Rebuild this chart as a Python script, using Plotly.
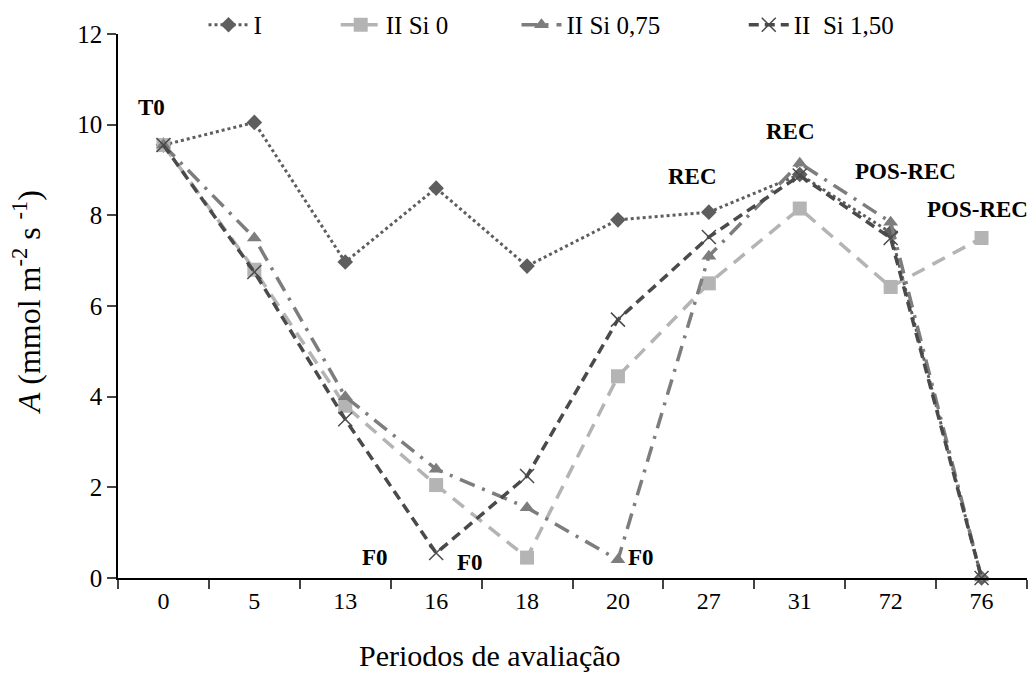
import plotly.graph_objects as go

periods = ["0", "5", "13", "16", "18", "20", "27", "31", "72", "76"]
s_I = [9.55, 10.05, 6.97, 8.6, 6.88, 7.9, 8.07, 8.9, 7.62, 0.0]
s_si0 = [9.55, 6.8, 3.8, 2.05, 0.45, 4.45, 6.5, 8.15, 6.42, 7.5]
s_si075 = [9.55, 7.5, 4.0, 2.4, 1.55, 0.4, 7.1, 9.15, 7.85, 0.0]
s_si150 = [9.55, 6.75, 3.5, 0.55, 2.25, 5.7, 7.52, 8.88, 7.5, 0.0]

ann_text = ["T0", "F0", "F0", "F0", "REC", "REC", "POS-REC", "POS-REC"]
ann_x = ["0", "16", "18", "20", "27", "31", "72", "76"]
ann_y = [10.37, 0.46, 0.35, 0.46, 8.85, 9.84, 8.96, 8.12]
ann_dx = [-12, -61, -57, 23, -16, -9, 15, -4]

font = "Times New Roman, Liberation Serif, serif"
fig = go.Figure()
fig.add_trace(go.Scatter(x=periods, y=s_I, name="I", mode="lines+markers", legend="legend",
                         line=dict(color="#5e5e5e", width=3, dash="dot"),
                         marker=dict(symbol="diamond", size=12, color="#5e5e5e"), cliponaxis=False))
fig.add_trace(go.Scatter(x=periods, y=s_si0, name="II Si 0", mode="lines+markers", legend="legend2",
                         line=dict(color="#b4b4b4", width=3.5, dash="14px,9px"),
                         marker=dict(symbol="square", size=14, color="#b4b4b4"), cliponaxis=False))
fig.add_trace(go.Scatter(x=periods, y=s_si075, name="II Si 0,75", mode="lines+markers", legend="legend3",
                         line=dict(color="#7d7d7d", width=3.5, dash="16px,8px,3px,8px"),
                         marker=dict(symbol="triangle-up", size=13, color="#7d7d7d"), cliponaxis=False))
fig.add_trace(go.Scatter(x=periods, y=s_si150, name="II  Si 1,50", mode="lines+markers", legend="legend4",
                         line=dict(color="#4a4a4a", width=3.5, dash="10px,6px"),
                         marker=dict(symbol="x-thin", size=14, color="#4a4a4a",
                                     line=dict(color="#4a4a4a", width=1.5)), cliponaxis=False))

for t, x, y, dx in zip(ann_text, ann_x, ann_y, ann_dx):
    fig.add_annotation(x=periods.index(x), y=y, text=f"<b>{t}</b>", showarrow=False, xshift=dx,
                       font=dict(family=font, size=23, color="black"))

# axis titles
fig.add_annotation(xref="paper", yref="paper", x=0.409, y=-0.143, text="Periodos de avaliação",
                   showarrow=False, xanchor="center", yanchor="middle",
                   font=dict(family=font, size=30, color="black"))
fig.add_annotation(xref="paper", yref="paper", x=-0.1, y=0.507, textangle=-90,
                   text="<i>A</i> (mmol m<sup>-2</sup> s <sup>-1</sup>)",
                   showarrow=False, xanchor="center", yanchor="middle",
                   font=dict(family=font, size=32, color="black"))

leg_common = dict(orientation="h", xref="container", yref="container", y=0.963, yanchor="middle",
                  xanchor="left", font=dict(family=font, size=25, color="black"),
                  bgcolor="rgba(0,0,0,0)", itemwidth=40)
fig.update_layout(
    width=1033, height=674, paper_bgcolor="white", plot_bgcolor="white",
    margin=dict(l=118, r=6, t=34, b=96, autoexpand=False),
    font=dict(family=font, size=22, color="black"),
    legend=dict(leg_common, x=0.197),
    legend2=dict(leg_common, x=0.325),
    legend3=dict(leg_common, x=0.500),
    legend4=dict(leg_common, x=0.720),
    showlegend=True,
)
fig.update_xaxes(type="category", tickson="boundaries", ticks="outside", ticklen=9, tickwidth=1.5,
                 showline=True, linecolor="black", linewidth=1.5, showgrid=False,
                 tickfont=dict(family=font, size=24), range=[-0.5, 9.5])
fig.update_yaxes(range=[0, 12], dtick=2, ticks="outside", ticklen=9, tickwidth=1.5, showline=True,
                 linecolor="black", linewidth=1.5, showgrid=False, zeroline=False,
                 tickfont=dict(family=font, size=25))

fig.write_html("out.html")
